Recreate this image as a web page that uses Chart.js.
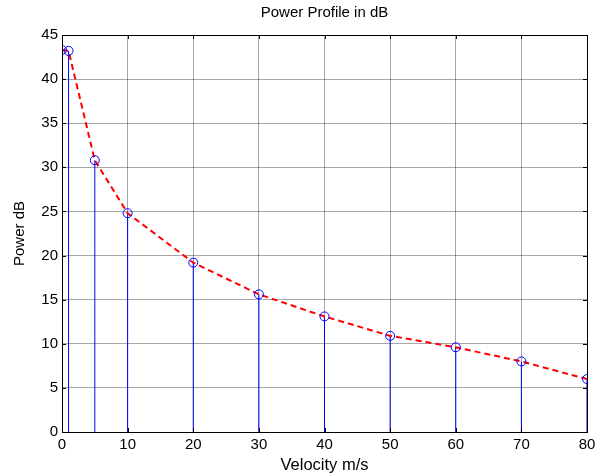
<!DOCTYPE html>
<html><head><meta charset="utf-8">
<script src="https://cdn.jsdelivr.net/npm/chart.js@4"></script>
<style>html,body{margin:0;padding:0;background:#fff}#wrap{width:600px;height:475px}</style>
</head><body><div id="wrap"><canvas id="c" width="600" height="475"></canvas></div>
<script>
const velocity = [0, 1, 5, 10, 20, 30, 40, 50, 60, 70, 80];
const powerDb = [43.3, 43.2, 30.8, 24.8, 19.2, 15.6, 13.1, 10.9, 9.6, 8.0, 6.0];
const xTicks = [0, 10, 20, 30, 40, 50, 60, 70, 80];
const yTicks = [0, 5, 10, 15, 20, 25, 30, 35, 40, 45];

const pts = velocity.map((v, i) => ({x: v, y: powerDb[i]}));
const stems = [];
velocity.forEach((v, i) => { stems.push({x: v, y: 0}, {x: v, y: powerDb[i]}, {x: v, y: null}); });

const FONT = 'Liberation Sans, Arial, sans-serif';

const boxPlugin = {
  id: 'box',
  afterDraw(chart) {
    const {ctx, chartArea: a, scales: {x, y}} = chart;
    ctx.save();
    ctx.strokeStyle = '#000'; ctx.lineWidth = 1;
    ctx.beginPath();
    xTicks.forEach(t => { const px = Math.round(x.getPixelForValue(t)) + 0.5;
      ctx.moveTo(px, a.bottom); ctx.lineTo(px, a.bottom - 4);
      ctx.moveTo(px, a.top); ctx.lineTo(px, a.top + 4); });
    yTicks.forEach(t => { const py = Math.round(y.getPixelForValue(t)) + 0.5;
      ctx.moveTo(a.left, py); ctx.lineTo(a.left + 4, py);
      ctx.moveTo(a.right, py); ctx.lineTo(a.right - 4, py); });
    ctx.stroke();
    ctx.strokeRect(Math.round(a.left) + 0.5, Math.round(a.top) + 0.5, Math.round(a.right - a.left), Math.round(a.bottom - a.top));
    ctx.restore();
  }
};

new Chart(document.getElementById('c'), {
  type: 'scatter',
  data: { datasets: [
    { data: stems, showLine: true, spanGaps: false, borderColor: '#0000ff', borderWidth: 1, pointRadius: 0, order: 3 },
    { data: pts, showLine: true, borderColor: '#ff0000', borderWidth: 2, borderDash: [6, 4], pointRadius: 0, order: 2 },
    { data: pts, showLine: false, pointStyle: 'circle', pointRadius: 4.5, pointBorderColor: '#0000ff', pointBackgroundColor: 'rgba(0,0,0,0)', pointBorderWidth: 1, order: 1 }
  ]},
  options: {
    responsive: false, animation: false,
    layout: { padding: { left: 0, right: 13, top: 0, bottom: 0 } },
    plugins: {
      legend: { display: false }, tooltip: { enabled: false },
      title: { display: true, fullSize: false, text: 'Power Profile in dB', color: '#000',
        font: { family: FONT, size: 15, weight: 'normal' },
        padding: { top: 4, bottom: 13 } }
    },
    scales: {
      x: { type: 'linear', min: 0, max: 80,
        afterBuildTicks: s => { s.ticks = xTicks.map(v => ({value: v})); },
        afterFit: s => { s.height = 43; },
        grid: { color: 'rgba(0,0,0,0.35)', drawTicks: false },
        border: { display: false },
        ticks: { color: '#000', padding: 4, font: { family: FONT, size: 15 } },
        title: { display: true, text: 'Velocity m/s', color: '#000', padding: { top: 0, bottom: 0 },
          font: { family: FONT, size: 16.5 } } },
      y: { min: 0, max: 45,
        afterBuildTicks: s => { s.ticks = yTicks.map(v => ({value: v})); },
        afterFit: s => { s.width = 62; },
        grid: { color: 'rgba(0,0,0,0.35)', drawTicks: false },
        border: { display: false },
        ticks: { color: '#000', padding: 4, font: { family: FONT, size: 15 } },
        title: { display: true, text: 'Power dB', color: '#000', padding: { top: 11, bottom: 0 },
          font: { family: FONT, size: 15 } } }
    }
  },
  plugins: [boxPlugin]
});
</script></body></html>
